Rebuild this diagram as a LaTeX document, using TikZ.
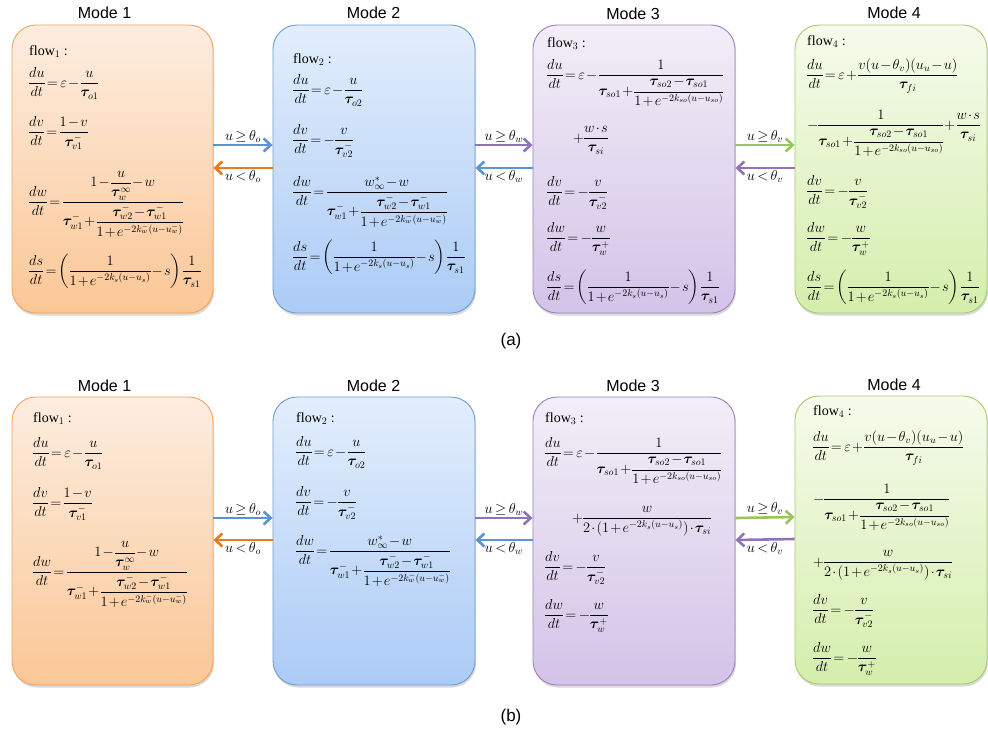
\documentclass[tikz,border=0pt]{standalone}
\usepackage{amsmath,bm}
\usepackage{fontspec}
\setmainfont{Liberation Serif}
\newfontfamily\arialf{Liberation Sans}
\usetikzlibrary{shadows,arrows.meta,calc}
\newcommand{\btau}{\bm{\tau}}
\newcommand{\Edu}[1]{\dfrac{du}{dt}=\varepsilon-\dfrac{u}{\btau_{o#1}}}
\newcommand{\Edvone}{\dfrac{dv}{dt}=\dfrac{1-v}{\btau_{v1}^{-}}}
\newcommand{\Edvtwo}{\dfrac{dv}{dt}=-\dfrac{v}{\btau_{v2}^{-}}}
\newcommand{\Edwden}{\btau_{w1}^{-}+\dfrac{\btau_{w2}^{-}-\btau_{w1}^{-}}{1+e^{-2k_w^{-}(u-u_w^{-})}}}
\newcommand{\Edwone}{\dfrac{dw}{dt}=\dfrac{1-\dfrac{u}{\btau_w^{\infty}}-w}{\Edwden}}
\newcommand{\Edwtwo}{\dfrac{dw}{dt}=\dfrac{w_{\infty}^{*}-w}{\Edwden}}
\newcommand{\Edwthree}{\dfrac{dw}{dt}=-\dfrac{w}{\btau_{w}^{+}}}
\newcommand{\Eds}{\dfrac{ds}{dt}=\left(\dfrac{1}{1+e^{-2k_s(u-u_s)}}-s\right)\dfrac{1}{\btau_{s1}}}
\newcommand{\Eso}{\dfrac{1}{\btau_{so1}+\dfrac{\btau_{so2}-\btau_{so1}}{1+e^{-2k_{so}(u-u_{so})}}}}
\newcommand{\Esi}{\dfrac{w}{2\cdot(1+e^{-2k_s(u-u_s)})\cdot\btau_{si}}}
\newcommand{\Ews}{\dfrac{w\cdot s}{\btau_{si}}}
\newcommand{\Efour}{\dfrac{du}{dt}=\varepsilon+\dfrac{v(u-\theta_v)(u_u-u)}{\btau_{fi}}}
\definecolor{oT}{HTML}{FDEDE0}
\definecolor{oB}{HTML}{FBC796}
\definecolor{oL}{HTML}{F5A25A}
\definecolor{bT}{HTML}{E3EEFC}
\definecolor{bB}{HTML}{ABCBF6}
\definecolor{bL}{HTML}{6D9DD3}
\definecolor{pT}{HTML}{F2EEF7}
\definecolor{pB}{HTML}{D3C3E8}
\definecolor{pL}{HTML}{9A80BC}
\definecolor{gT}{HTML}{F6FBEC}
\definecolor{gB}{HTML}{D4EEAC}
\definecolor{gL}{HTML}{A8C96C}
\definecolor{aB}{HTML}{5B93D3}
\definecolor{aO}{HTML}{EC7A1C}
\definecolor{aP}{HTML}{9174B8}
\definecolor{aG}{HTML}{9CC45C}
\medmuskip=1.5mu
\thickmuskip=3mu
\thinmuskip=2mu
\nulldelimiterspace=0pt
\begin{document}
\begin{tikzpicture}[x=1pt,y=-1pt,
  box/.style={rounded corners=24pt, minimum height=288pt, line width=0.9pt, inner sep=0pt,
    drop shadow={opacity=0.3,shadow xshift=1pt,shadow yshift=-2.5pt}},
  obox/.style={box, minimum width=201pt, draw=oL, top color=oT, bottom color=oB},
  bbox/.style={box, minimum width=202pt, draw=bL, top color=bT, bottom color=bB},
  pbox/.style={box, minimum width=202pt, draw=pL, top color=pT, bottom color=pB},
  gbox/.style={box, minimum width=192pt, draw=gL, top color=gT, bottom color=gB},
  modelabel/.style={anchor=base, inner sep=0pt, font=\arialf\fontsize{16}{18}\selectfont},
  eq/.style={anchor=base west, inner sep=0pt, font=\fontsize{14}{17}\selectfont},
  arr/.style={line width=2.6pt, -{Straight Barb[length=7pt,width=13pt]}},
  cond/.style={text=black, font=\fontsize{14}{16}\selectfont, inner sep=1.5pt}
]
\useasboundingbox (0,0) rectangle (988,732);

% ---------------- (a) ----------------
\node[obox] (A1) at (112.5,169) {};
\node[bbox] (A2) at (374,169) {};
\node[pbox] (A3) at (634,169) {};
\node[gbox] (A4) at (891,169) {};
\node[modelabel] (LA1) at (104.5,18) {Mode 1};
\node[modelabel] (LA2) at (373.5,18) {Mode 2};
\node[modelabel] (LA3) at (633,19) {Mode 3};
\node[modelabel] (LA4) at (894,18) {Mode 4};

\node[eq] (a1f) at (29,55) {flow$_1$ :};
\node[eq] (a1u) at (29,87) {$\Edu{1}$};
\node[eq] (a1v) at (29,136) {$\Edvone$};
\node[eq] (a1w) at (29,206) {$\Edwone$};
\node[eq] (a1s) at (29,275) {$\Eds$};

\node[eq] (a2f) at (293,63) {flow$_2$ :};
\node[eq] (a2u) at (293,94) {$\Edu{2}$};
\node[eq] (a2v) at (293,144) {$\Edvtwo$};
\node[eq] (a2w) at (293,196) {$\Edwtwo$};
\node[eq] (a2s) at (293,261) {$\Eds$};

\node[eq] (a3f) at (547,47) {flow$_3$ :};
\node[eq] (a3u) at (547,79) {$\dfrac{du}{dt}=\varepsilon-\Eso$};
\node[eq] (a3p) at (573,142) {$+\Ews$};
\node[eq] (a3v) at (547,196) {$\Edvtwo$};
\node[eq] (a3w) at (547,242) {$\Edwthree$};
\node[eq] (a3s) at (547,291) {$\Eds$};

\node[eq] (a4f) at (807,45) {flow$_4$ :};
\node[eq] (a4u) at (807,79) {$\Efour$};
\node[eq] (a4m) at (807,129) {$-\Eso+\Ews$};
\node[eq] (a4v) at (807,195) {$\Edvtwo$};
\node[eq] (a4w) at (807,242) {$\Edwthree$};
\node[eq] (a4s) at (807,291) {$\Eds$};

\draw[arr,aB] ($(A1.east)+(0,-24)$) -- node[cond,above] (ca1) {$u\geq\theta_o$} ($(A2.west)+(0,-24)$);
\draw[arr,aO] ($(A2.west)+(0,-1)$) -- node[cond,below] (ca2) {$u<\theta_o$} ($(A1.east)+(0,-1)$);
\draw[arr,aP] ($(A2.east)+(0,-24)$) -- node[cond,above] (ca3) {$u\geq\theta_w$} ($(A3.west)+(0,-24)$);
\draw[arr,aB] ($(A3.west)+(0,-1)$) -- node[cond,below] (ca4) {$u<\theta_w$} ($(A2.east)+(0,-1)$);
\draw[arr,aG] ($(A3.east)+(0,-24)$) -- node[cond,above] (ca5) {$u\geq\theta_v$} ($(A4.west)+(0,-24)$);
\draw[arr,aP] ($(A4.west)+(0,-1)$) -- node[cond,below] (ca6) {$u<\theta_v$} ($(A3.east)+(0,-1)$);

\node[font=\arialf\fontsize{17}{19}\selectfont] (capa) at (511,341) {(a)};

% ---------------- (b) ----------------
\node[obox] (B1) at (112.5,541) {};
\node[bbox] (B2) at (374,541) {};
\node[pbox] (B3) at (634,541) {};
\node[gbox] (B4) at (891,540) {};
\node[modelabel] (LB1) at (104.5,391) {Mode 1};
\node[modelabel] (LB2) at (373.5,391) {Mode 2};
\node[modelabel] (LB3) at (633,391) {Mode 3};
\node[modelabel] (LB4) at (894,390) {Mode 4};

\node[eq] (b1f) at (33,422) {flow$_1$ :};
\node[eq] (b1u) at (33,457) {$\Edu{1}$};
\node[eq] (b1v) at (33,507) {$\Edvone$};
\node[eq] (b1w) at (33,576) {$\Edwone$};

\node[eq] (b2f) at (296,422) {flow$_2$ :};
\node[eq] (b2u) at (296,456) {$\Edu{2}$};
\node[eq] (b2v) at (296,506) {$\Edvtwo$};
\node[eq] (b2w) at (296,555) {$\Edwtwo$};

\node[eq] (b3f) at (545,422) {flow$_3$ :};
\node[eq] (b3u) at (545,457) {$\dfrac{du}{dt}=\varepsilon-\Eso$};
\node[eq] (b3p) at (572,522) {$+\Esi$};
\node[eq] (b3v) at (545,571) {$\Edvtwo$};
\node[eq] (b3w) at (545,619) {$\Edwthree$};

\node[eq] (b4f) at (813,415) {flow$_4$ :};
\node[eq] (b4u) at (813,451) {$\Efour$};
\node[eq] (b4m) at (813,503) {$-\Eso$};
\node[eq] (b4p) at (813,566) {$+\Esi$};
\node[eq] (b4v) at (813,614) {$\Edvtwo$};
\node[eq] (b4w) at (813,662) {$\Edwthree$};

\draw[arr,aB] ($(B1.east)+(0,-23)$) -- node[cond,above] (cb1) {$u\geq\theta_o$} ($(B2.west)+(0,-23)$);
\draw[arr,aO] ($(B2.west)+(0,-1)$) -- node[cond,below] (cb2) {$u<\theta_o$} ($(B1.east)+(0,-1)$);
\draw[arr,aP] ($(B2.east)+(0,-23)$) -- node[cond,above] (cb3) {$u\geq\theta_w$} ($(B3.west)+(0,-23)$);
\draw[arr,aB] ($(B3.west)+(0,-1)$) -- node[cond,below] (cb4) {$u<\theta_w$} ($(B2.east)+(0,-1)$);
\draw[arr,aG] ($(B3.east)+(0,-23)$) -- node[cond,above] (cb5) {$u\geq\theta_v$} ($(B4.west)+(0,-23)$);
\draw[arr,aP] ($(B4.west)+(0,-1)$) -- node[cond,below] (cb6) {$u<\theta_v$} ($(B3.east)+(0,-1)$);

\node[font=\arialf\fontsize{17}{19}\selectfont] (capb) at (511,717) {(b)};
\end{tikzpicture}
\end{document}
